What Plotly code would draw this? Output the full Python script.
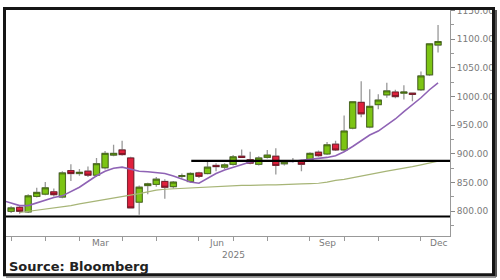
import plotly.graph_objects as go
import pandas as pd

# ---------------- data (weekly candles, 2025) ----------------
first_week = "2025-01-04"
n_weeks = 51

opens = [800, 807, 799, 826, 830, 834, 825, 871, 866, 870,
         863, 876, 898, 907, 893, 816, 845, 847, 852, 843,
         861, 852, 867, 866, 880, 877, 882, 896, 890, 882,
         894, 896, 883, 887, 888, 890, 903, 900, 917, 907,
         945, 990, 947, 986, 1003, 1008, 1006, 1006, 1012, 1038,
         1090]
highs = [809, 810, 830, 841, 851, 840, 870, 882, 874, 878,
         893, 905, 916, 923, 895, 845, 850, 860, 856, 853,
         866, 868, 869, 886, 884, 884, 898, 908, 904, 896,
         907, 910, 889, 893, 890, 903, 906, 921, 923, 967,
         992, 1027, 1013, 1004, 1024, 1012, 1020, 1007, 1044, 1093,
         1125]
lows = [797, 796, 797, 824, 828, 826, 823, 853, 862, 860,
        860, 873, 896, 897, 805, 794, 830, 843, 822, 840,
        858, 850, 858, 864, 870, 874, 880, 893, 882, 880,
        892, 864, 880, 885, 870, 888, 895, 898, 905, 905,
        943, 964, 945, 978, 998, 997, 995, 992, 1010, 1036,
        1077]
closes = [806, 800, 827, 833, 841, 829, 867, 866, 868, 863,
          883, 901, 901, 899, 806, 842, 848, 856, 842, 851,
          862, 866, 861, 877, 878, 881, 895, 894, 884, 893,
          898, 880, 887, 888, 882, 901, 897, 916, 907, 940,
          991, 970, 983, 994, 1010, 1000, 1008, 1004, 1036, 1092,
          1096]

# short moving average (purple), first value one week before first candle
ma_short = [819, 814, 810, 810, 814.5, 819, 824, 827, 834, 842,
            852, 862, 870, 875, 877, 873.5, 870, 869, 867.5, 866,
            861.5, 856, 851, 849, 857, 866, 872, 877, 882, 886,
            888, 888, 887, 887, 887, 889, 890.5, 892, 894, 897,
            904, 913, 923, 933, 940, 950, 961, 974, 986, 998,
            1012, 1024]
# long moving average (olive), starting at the second candle
ma_long = [798, 800, 802, 803.5, 805, 807.7, 810, 813, 815.4, 818,
           820.5, 823, 825.7, 827.4, 831, 834, 837, 838.5, 839.4, 840,
           841, 842, 843, 843.6, 844.5, 844.5, 845.3, 845.3, 846, 846,
           846, 847, 847.4, 848, 848.4, 849, 851, 854, 855.6, 858.7,
           861.5, 865, 867.5, 870, 872.7, 875, 878, 881, 884.6, 887.5]

# horizontal support / resistance levels and the week they start at
levels = [791, 888]
level_start_week = [-0.6, 21.1]

# month tick weeks (first weekly bar of each month) and labelled months
month_tick_weeks = [0, 4, 8, 13, 17, 22, 26, 30, 35, 39, 43, 48, 52]
month_labels = ["Mar", "Jun", "Sep", "Dec"]
month_label_index = [2, 5, 8, 11]
year_label = "2025"

y_ticks = [800, 850, 900, 950, 1000, 1050, 1100, 1150]

# ---------------- build ----------------
base = pd.Timestamp(first_week)
def wk(i):
    return base + pd.Timedelta(days=7 * i)

dates = [wk(i) for i in range(n_weeks)]
x_range = [wk(-0.6), wk(51.4)]

body_hi = [max(o, c) for o, c in zip(opens, closes)]
body_lo = [min(o, c) for o, c in zip(opens, closes)]

GREEN = "#7cc414"
RED = "#e0203c"
fig = go.Figure()

fig.add_trace(go.Scatter(x=dates[1:], y=ma_long, mode="lines",
                         line=dict(color="#a7b577", width=1.2), hoverinfo="skip"))
fig.add_trace(go.Scatter(x=[wk(-1)] + dates, y=ma_short, mode="lines",
                         line=dict(color="#8f63b5", width=1.6), hoverinfo="skip"))

# wicks
fig.add_trace(go.Candlestick(
    x=dates, open=opens, high=highs, low=lows, close=closes,
    increasing=dict(line=dict(color="#999999", width=1.3), fillcolor="rgba(0,0,0,0)"),
    decreasing=dict(line=dict(color="#999999", width=1.3), fillcolor="rgba(0,0,0,0)"),
    whiskerwidth=0, hoverinfo="skip"))
# bodies
fig.add_trace(go.Candlestick(
    x=dates, open=opens, high=body_hi, low=body_lo, close=closes,
    increasing=dict(line=dict(color="#3b5a10", width=0.8), fillcolor=GREEN),
    decreasing=dict(line=dict(color="#6a1020", width=0.8), fillcolor=RED),
    whiskerwidth=0, hoverinfo="skip"))

for lv, sw in zip(levels, level_start_week):
    fig.add_trace(go.Scatter(x=[wk(sw), x_range[1]], y=[lv, lv], mode="lines",
                             line=dict(color="#000000", width=2.2), hoverinfo="skip"))

# geometry helpers (pixels -> paper)
W, H = 500, 280
L, R, T, B = 6, 50, 6, 44
pw, ph = W - L - R, H - T - B
def px(x):
    return (x - L) / pw
def py(y):
    return (H - B - y) / ph

annotations = []
for lab, mi in zip(month_labels, month_label_index):
    a, b = month_tick_weeks[mi], month_tick_weeks[mi + 1]
    annotations.append(dict(x=wk((a + b) / 2), y=py(243), xref="x", yref="paper",
                            text=lab, showarrow=False, yanchor="middle",
                            font=dict(family="DejaVu Sans", size=9, color="#7a7a7a")))
annotations.append(dict(x=wk(26), y=py(255), xref="x", yref="paper", text=year_label,
                        showarrow=False, yanchor="middle",
                        font=dict(family="DejaVu Sans", size=9, color="#7a7a7a")))
annotations.append(dict(x=px(7), y=py(267), xref="paper", yref="paper",
                        text="<b>Source: Bloomberg</b>", showarrow=False,
                        xanchor="left", yanchor="middle",
                        font=dict(family="DejaVu Sans", size=13, color="#222222")))

shapes = [
    dict(type="rect", xref="paper", yref="paper", x0=px(4.5), x1=px(493.5),
         y0=py(275.5), y1=py(4.5), line=dict(color="#151515", width=3), layer="above"),
    dict(type="line", xref="paper", yref="paper", x0=px(496), x1=px(496),
         y0=py(277.5), y1=py(6), line=dict(color="#555555", width=2), layer="above"),
    dict(type="line", xref="paper", yref="paper", x0=px(6), x1=px(496),
         y0=py(277.8), y1=py(277.8), line=dict(color="#777777", width=1.5), layer="above"),
]

fig.update_layout(
    width=W, height=H, margin=dict(l=L, r=R, t=T, b=B),
    paper_bgcolor="white", plot_bgcolor="white", showlegend=False,
    boxgap=0.15, boxgroupgap=0.15,
    annotations=annotations, shapes=shapes,
    xaxis=dict(type="date", range=x_range, rangeslider=dict(visible=False),
               tickmode="array", tickvals=[wk(i) for i in month_tick_weeks],
               ticktext=[""] * len(month_tick_weeks),
               ticks="outside", ticklen=4, tickcolor="#999999",
               showline=True, linecolor="#999999", linewidth=1,
               showgrid=False, zeroline=False),
    yaxis=dict(side="right", range=[757, 1151], tickmode="array", tickvals=y_ticks,
               tickformat=".2f", ticks="outside", ticklen=4, tickcolor="#888888",
               minor=dict(tickmode="linear", tick0=775, dtick=50, ticks="outside",
                          ticklen=3, tickcolor="#999999"),
               showline=True, linecolor="#999999", linewidth=1,
               showgrid=False, zeroline=False,
               tickfont=dict(family="DejaVu Sans", size=9, color="#7a7a7a")),
)

fig.write_html("out.html")
